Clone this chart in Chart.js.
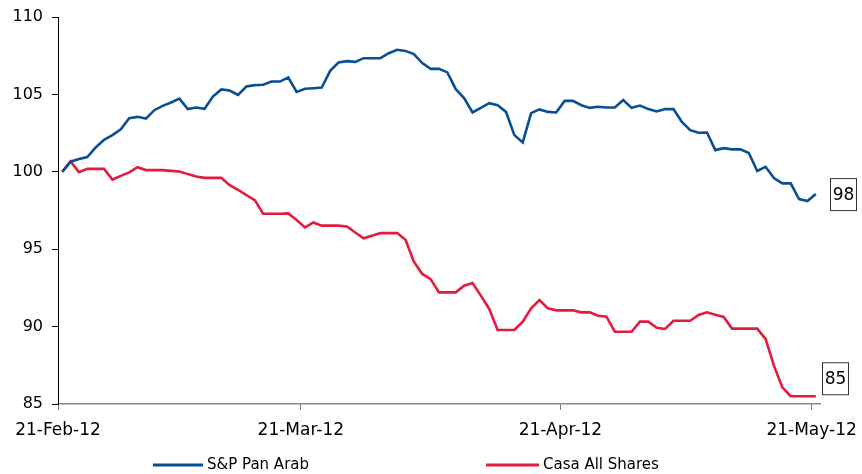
<!DOCTYPE html>
<html>
<head>
<meta charset="utf-8">
<script src="https://cdn.jsdelivr.net/npm/chart.js@4.4.1/dist/chart.umd.min.js"></script>
<style>
  html, body { margin: 0; padding: 0; background: #fff; }
  #wrap { width: 862px; height: 474px; }
</style>
</head>
<body>
<div id="wrap"><canvas id="chart" width="862" height="474"></canvas></div>
<script>
// days since 21-Feb-12 where the x ticks sit
const tickDays = [0, 29, 60, 90];
const tickLabels = ['21-Feb-12', '21-Mar-12', '21-Apr-12', '21-May-12'];
const seriesNames = ['S&P Pan Arab', 'Casa All Shares'];
const endLabels = ['98', '85'];

// one value per calendar day, 21-Feb-12 .. 21-May-12
const panArab = [
  100.0, 100.65, 100.82, 100.95, 101.57, 102.07, 102.37, 102.75, 103.46, 103.55,
  103.44, 103.98, 104.26, 104.48, 104.73, 104.05, 104.15, 104.07, 104.86, 105.32,
  105.25, 104.97, 105.51, 105.6, 105.62, 105.83, 105.83, 106.09, 105.16, 105.36,
  105.4, 105.44, 106.52, 107.06, 107.15, 107.1, 107.34, 107.34, 107.34, 107.66,
  107.88, 107.81, 107.6, 107.02, 106.65, 106.65, 106.42, 105.34, 104.76, 103.83,
  104.13, 104.43, 104.3, 103.87, 102.37, 101.9, 103.79, 104.03, 103.87, 103.83,
  104.58, 104.58, 104.3, 104.13, 104.2, 104.15, 104.15, 104.63, 104.13, 104.28,
  104.05, 103.9, 104.05, 104.05, 103.23, 102.69, 102.52, 102.54, 101.4, 101.53,
  101.45, 101.45, 101.21, 100.05, 100.32, 99.59, 99.25, 99.25, 98.24, 98.11,
  98.56
];
const casa = [
  100.0, 100.67, 99.98, 100.19, 100.19, 100.19, 99.5, 99.74, 99.96, 100.3,
  100.11, 100.11, 100.11, 100.06, 100.02, 99.85, 99.7, 99.61, 99.61, 99.61,
  99.14, 98.84, 98.49, 98.17, 97.29, 97.29, 97.29, 97.31, 96.88, 96.41,
  96.73, 96.52, 96.52, 96.52, 96.47, 96.08, 95.7, 95.87, 96.04, 96.04,
  96.04, 95.61, 94.19, 93.4, 93.07, 92.21, 92.21, 92.21, 92.64, 92.81,
  92.0, 91.14, 89.78, 89.78, 89.78, 90.32, 91.18, 91.72, 91.18, 91.05,
  91.05, 91.05, 90.92, 90.92, 90.7, 90.64, 89.67, 89.67, 89.67, 90.32,
  90.32, 89.93, 89.85, 90.38, 90.38, 90.38, 90.75, 90.92, 90.77, 90.62,
  89.87, 89.87, 89.87, 89.87, 89.2, 87.48, 86.08, 85.5, 85.5, 85.5,
  85.5
];

const COLORS = ['#0a4f93', '#e41b3d'];
const FONT = '"DejaVu Sans", "Liberation Sans", Arial, sans-serif';

// points sit in the middle of their day, like an Excel date axis
const toPoints = arr => arr.map((v, i) => ({ x: i + 0.5, y: v }));

const endLabelPlugin = {
  id: 'endLabels',
  afterDatasetsDraw(chart) {
    const { ctx } = chart;
    const xs = chart.scales.x;
    const ys = chart.scales.y;
    const shifts = [{ dx: 10, dy: 0 }, { dx: 2, dy: -18 }];
    ctx.save();
    ctx.font = '17px ' + FONT;
    ctx.textBaseline = 'middle';
    ctx.textAlign = 'center';
    chart.data.datasets.forEach((ds, i) => {
      const last = ds.data[ds.data.length - 1];
      const x = xs.right + shifts[i].dx;
      const y = ys.getPixelForValue(last.y) + shifts[i].dy;
      const w = 26, h = 32;
      ctx.fillStyle = '#fff';
      ctx.fillRect(x, y - h / 2, w, h);
      ctx.strokeStyle = '#333';
      ctx.lineWidth = 1;
      ctx.strokeRect(x + 0.5, y - h / 2 + 0.5, w, h);
      ctx.fillStyle = '#000';
      ctx.fillText(endLabels[i], x + w / 2 + 0.5, y + 1);
    });
    ctx.restore();
  }
};

const legendPlugin = {
  id: 'bottomLegend',
  afterDraw(chart) {
    const { ctx } = chart;
    const items = [{ x: 153, len: 50 }, { x: 486, len: 53 }];
    const y = 465;
    ctx.save();
    ctx.font = '15px ' + FONT;
    ctx.textBaseline = 'middle';
    ctx.textAlign = 'left';
    chart.data.datasets.forEach((ds, i) => {
      const it = items[i];
      ctx.strokeStyle = ds.borderColor;
      ctx.lineWidth = 3;
      ctx.beginPath();
      ctx.moveTo(it.x, y);
      ctx.lineTo(it.x + it.len, y);
      ctx.stroke();
      ctx.fillStyle = '#000';
      ctx.fillText(ds.label, it.x + it.len + 4, y);
    });
    ctx.restore();
  }
};

new Chart(document.getElementById('chart').getContext('2d'), {
  type: 'line',
  data: {
    datasets: [
      { label: seriesNames[0], data: toPoints(panArab), borderColor: COLORS[0], borderWidth: 2.6, pointRadius: 0, tension: 0 },
      { label: seriesNames[1], data: toPoints(casa), borderColor: COLORS[1], borderWidth: 2.6, pointRadius: 0, tension: 0 }
    ]
  },
  options: {
    responsive: false,
    animation: false,
    layout: { padding: { top: 17, right: 42, left: 0, bottom: 0 } },
    plugins: {
      legend: { display: false },
      tooltip: { enabled: false }
    },
    scales: {
      x: {
        type: 'linear',
        min: 0,
        max: 91,
        afterBuildTicks: s => { s.ticks = tickDays.map(v => ({ value: v })); },
        afterFit: s => { s.height = 70; s.paddingLeft = 0; s.paddingRight = 0; },
        ticks: {
          autoSkip: false,
          maxRotation: 0,
          padding: 10,
          color: '#000',
          font: { family: FONT, size: 17 },
          callback: v => tickLabels[tickDays.indexOf(v)]
        },
        grid: { drawOnChartArea: false, drawTicks: true, tickLength: 6, color: '#777' },
        border: { display: true, color: '#888', width: 1.5 }
      },
      y: {
        min: 85,
        max: 110,
        afterFit: s => { s.width = 58; s.paddingTop = 0; s.paddingBottom = 0; },
        ticks: {
          stepSize: 5,
          padding: 9,
          color: '#000',
          font: { family: FONT, size: 16 }
        },
        grid: { drawOnChartArea: false, drawTicks: true, tickLength: 6, color: '#000' },
        border: { display: true, color: '#000', width: 1 }
      }
    }
  },
  plugins: [endLabelPlugin, legendPlugin]
});
</script>
</body>
</html>
